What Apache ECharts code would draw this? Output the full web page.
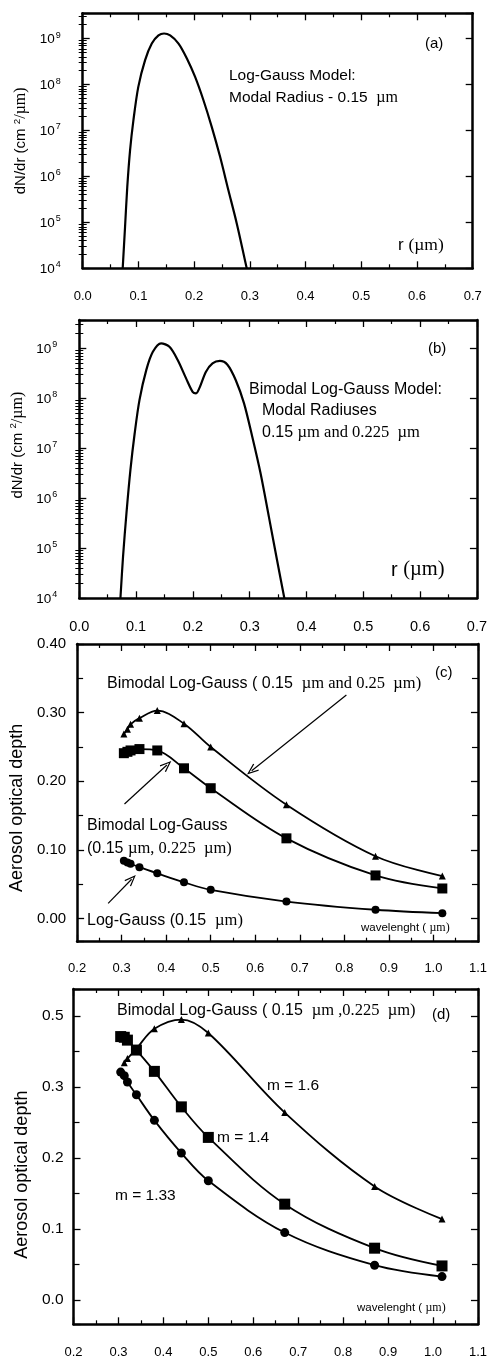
<!DOCTYPE html>
<html><head><meta charset="utf-8">
<script src="https://cdn.jsdelivr.net/npm/echarts@6/dist/echarts.min.js"></script>
<style>html,body{margin:0;padding:0;background:#fff}#c{width:490px;height:1362px}</style>
</head><body><div id="c"></div>
<script>
// ---------- Panel (a): Log-Gauss size distribution ----------
const aRadius = [0.0718, 0.076, 0.080, 0.085, 0.091, 0.0998, 0.112, 0.124, 0.136, 0.146, 0.157, 0.172, 0.187, 0.2016, 0.2166, 0.2316, 0.2465, 0.2615, 0.2765, 0.2944];
const aDNdr = [1e4, 7.9e4, 5.9e5, 3.7e6, 1.66e7, 8.9e7, 3.4e8, 7.8e8, 1.17e9, 1.29e9, 1.17e9, 7.8e8, 3.7e8, 1.48e8, 4.6e7, 1.2e7, 2.7e6, 5.0e5, 9.5e4, 1e4];

// ---------- Panel (b): Bimodal Log-Gauss size distribution ----------
const bRadius = [0.0724, 0.077, 0.083, 0.090, 0.0975, 0.106, 0.118, 0.1295, 0.144, 0.1587, 0.173, 0.188, 0.1995, 0.2055, 0.2112, 0.223, 0.2345, 0.2474, 0.2608, 0.2755, 0.290, 0.3045, 0.319, 0.3337, 0.348, 0.361];
const bDNdr = [1e4, 6.8e4, 5.0e5, 3.7e6, 2.0e7, 9.3e7, 3.7e8, 8.5e8, 1.26e9, 1.07e9, 5.9e8, 2.5e8, 1.35e8, 1.26e8, 1.58e8, 3.4e8, 5.0e8, 5.6e8, 4.7e8, 2.3e8, 7.9e7, 1.7e7, 3.2e6, 4.3e5, 5.9e4, 1e4];

// ---------- Panel (c): aerosol optical depth vs wavelength ----------
const cWave = [0.305, 0.313, 0.32, 0.34, 0.38, 0.44, 0.50, 0.67, 0.87, 1.02];
const cBimodal025 = [0.269, 0.276, 0.283, 0.292, 0.303, 0.284, 0.250, 0.166, 0.091, 0.062];
const cBimodal0225 = [0.241, 0.243, 0.245, 0.247, 0.245, 0.219, 0.190, 0.117, 0.063, 0.044];
const cLogGauss = [0.0845, 0.082, 0.080, 0.075, 0.066, 0.053, 0.042, 0.025, 0.013, 0.008];
// arrows: [from, to] in data units
const cArrows = [
  [[0.8045, 0.3258], [0.592, 0.2155]],
  [[0.3064, 0.167], [0.4016, 0.2238]],
  [[0.2697, 0.0224], [0.3224, 0.0574]]
];

// ---------- Panel (d): refractive index comparison ----------
const dWave = [0.305, 0.313, 0.32, 0.34, 0.38, 0.44, 0.50, 0.67, 0.87, 1.02];
const dWaveM16 = [0.313, 0.32, 0.34, 0.38, 0.44, 0.50, 0.67, 0.87, 1.02];
const dM16 = [0.334, 0.340, 0.354, 0.382, 0.395, 0.376, 0.264, 0.160, 0.114];
const dM14 = [0.371, 0.370, 0.366, 0.352, 0.322, 0.272, 0.229, 0.135, 0.073, 0.048];
const dM133 = [0.321, 0.316, 0.307, 0.289, 0.253, 0.207, 0.168, 0.095, 0.049, 0.033];
const dYTickLabels = ['0.0', '0.1', '0.2', '0.3', '0.5'];

const sans = '"Liberation Sans", Arial, Helvetica, sans-serif';
const serif = '"Liberation Serif", "Times New Roman", serif';
const BLACK = '#000';

const pair = (xs, ys) => xs.map((x, i) => [x, ys[i]]);

function xAxes(gridIndex, min, max, labelSize, margin) {
  const common = {
    type: 'value', gridIndex, min, max, interval: 0.1,
    splitLine: { show: false },
    axisLine: { show: true, onZero: false, lineStyle: { color: BLACK, width: 2.5 } },
    axisTick: { show: true, inside: true, length: 7, lineStyle: { color: BLACK, width: 1.3 } },
    minorTick: { show: true, splitNumber: 2, length: 4, lineStyle: { color: BLACK, width: 1.2 } }
  };
  return [
    Object.assign({}, common, { position: 'bottom', axisLabel: { show: true, margin, fontSize: labelSize, fontFamily: sans, color: BLACK, showMinLabel: true, showMaxLabel: true, formatter: v => v.toFixed(1) } }),
    Object.assign({}, common, { position: 'top', axisLabel: { show: false } })
  ];
}

const dNdrName = '{a|dN/dr (cm }{p|2}{t|/µm)}';
function nameRich(size) {
  return {
    a: { fontFamily: sans, fontSize: size, color: BLACK, verticalAlign: 'bottom' },
    p: { fontFamily: sans, fontSize: size * 0.65, color: BLACK, verticalAlign: 'bottom', padding: [0, 0, size * 0.45, 0] },
    t: { fontFamily: serif, fontSize: size + 1, color: BLACK, verticalAlign: 'bottom' }
  };
}

function logMinorValues(maxVal) {
  const out = [];
  for (let n = 4; n <= 9; n++) {
    for (let k = 2; k <= 9; k++) {
      const v = k * Math.pow(10, n);
      if (v < maxVal) out.push(v);
    }
  }
  return out;
}

function logYAxes(gridIndex, maxVal, margin, nameGap, namePad) {
  const common = {
    type: 'log', logBase: 10, gridIndex, min: 1e4, max: maxVal,
    splitLine: { show: false },
    axisLine: { show: true, onZero: false, lineStyle: { color: BLACK, width: 2.5 } },
    axisTick: { show: true, inside: true, length: 7, lineStyle: { color: BLACK, width: 1.3 } },
    minorTick: { show: false }
  };
  const minorCommon = {
    type: 'log', logBase: 10, gridIndex, min: 1e4, max: maxVal,
    splitLine: { show: false },
    axisLine: { show: false },
    axisLabel: { show: false },
    axisTick: { show: true, inside: true, length: 4, customValues: logMinorValues(maxVal), lineStyle: { color: BLACK, width: 1 } }
  };
  return [
    Object.assign({}, common, {
      position: 'left',
      name: dNdrName, nameLocation: 'middle', nameGap,
      nameTextStyle: { rich: nameRich(15), padding: namePad },
      axisLabel: {
        show: true, margin, showMinLabel: true, showMaxLabel: true,
        formatter: v => {
          const e = Math.log10(v);
          if (Math.abs(e - Math.round(e)) > 1e-6) return '';
          return '{b|10}{s|' + Math.round(e) + '}';
        },
        rich: {
          b: { fontFamily: sans, fontSize: 13.5, color: BLACK, verticalAlign: 'bottom' },
          s: { fontFamily: sans, fontSize: 9, color: BLACK, verticalAlign: 'bottom', padding: [0, 0, 7, 1] }
        }
      }
    }),
    Object.assign({}, common, { position: 'right', axisLabel: { show: false } }),
    Object.assign({}, minorCommon, { position: 'left' }),
    Object.assign({}, minorCommon, { position: 'right' })
  ];
}

function valYAxes(gridIndex, min, max, fmt, labelSize, margin, nameGap, namePad) {
  const common = {
    type: 'value', gridIndex, min, max, splitNumber: 4,
    splitLine: { show: false },
    axisLine: { show: true, onZero: false, lineStyle: { color: BLACK, width: 2.5 } },
    axisTick: { show: true, inside: true, length: 7, lineStyle: { color: BLACK, width: 1.3 } },
    minorTick: { show: true, splitNumber: 2, length: 6, lineStyle: { color: BLACK, width: 1.2 } }
  };
  return [
    Object.assign({}, common, {
      position: 'left',
      name: 'Aerosol optical depth', nameLocation: 'middle', nameGap,
      nameTextStyle: { fontFamily: sans, fontSize: 18, color: BLACK, padding: namePad },
      axisLabel: { show: true, margin, fontSize: labelSize, fontFamily: sans, color: BLACK, showMinLabel: true, showMaxLabel: true, formatter: fmt }
    }),
    Object.assign({}, common, { position: 'right', axisLabel: { show: false } })
  ];
}

const isTenth = v => Math.abs(v * 10 - Math.round(v * 10)) < 1e-6;

const grids = [
  { left: 82.7, top: 13.3, width: 390, height: 255 },
  { left: 79.3, top: 320, width: 400, height: 278.3 },
  { left: 73.5, top: 644, width: 409, height: 297.7 },
  { left: 73.5, top: 989, width: 409, height: 335.3 }
];

const xAxis = [].concat(
  xAxes(0, 0, 0.7, 13, 22),
  xAxes(1, 0, 0.7, 14.5, 21),
  xAxes(2, 0.2, 1.1, 13, 20),
  xAxes(3, 0.2, 1.1, 13, 22)
);
// y axis indices: 0-3 panel a, 4-7 panel b, 8-9 panel c, 10-11 panel d
const yAxis = [].concat(
  logYAxes(0, Math.pow(10, 9.55), 22, 48, [0, 0, 0, 0]),
  logYAxes(1, Math.pow(10, 9.566), 22, 48, [0, 0, 0, 28]),
  valYAxes(2, -0.0335, 0.40, v => isTenth(v) ? v.toFixed(2) : '', 15, 11, 40, [0, 30, 0, 0]),
  valYAxes(3, -0.0342, 0.438, v => isTenth(v) ? dYTickLabels[Math.round(v * 10)] : '', 15.5, 10, 40, [0, 36, 0, 0])
);

const chevron = 'path://M5 0L10 11L8.8 11.6L5 3L1.2 11.6L0 11Z';
const lineCurve = (xi, yi, data) => ({
  type: 'line', xAxisIndex: xi, yAxisIndex: yi, data, symbol: 'none', showSymbol: false,
  smooth: 0.3, lineStyle: { color: BLACK, width: 2.2 }, clip: true, silent: true
});
const markerLine = (xi, yi, data, symbol, size, extra) => Object.assign({
  type: 'line', xAxisIndex: xi, yAxisIndex: yi, data, symbol, symbolSize: size,
  smooth: 0.35, itemStyle: { color: BLACK }, lineStyle: { color: BLACK, width: 1.8 }, silent: true
}, extra || {});

const series = [
  lineCurve(0, 0, pair(aRadius, aDNdr)),
  lineCurve(2, 4, pair(bRadius, bDNdr)),
  markerLine(4, 8, pair(cWave, cBimodal025), 'triangle', 7),
  markerLine(4, 8, pair(cWave, cBimodal0225), 'rect', 10),
  markerLine(4, 8, pair(cWave, cLogGauss), 'circle', 8, {
    markLine: {
      silent: true, animation: false,
      symbol: ['none', chevron], symbolSize: [9, 12],
      lineStyle: { color: BLACK, width: 1.2, type: 'solid' },
      label: { show: false },
      data: cArrows.map(a => [{ coord: a[0] }, { coord: a[1] }])
    }
  }),
  markerLine(6, 10, pair(dWaveM16, dM16), 'triangle', 7),
  markerLine(6, 10, pair(dWave, dM14), 'rect', 11),
  markerLine(6, 10, pair(dWave, dM133), 'circle', 9)
];

const S = t => '{s|' + t + '}';
const T = t => '{t|' + t + '}';
function label(x, y, text, size) {
  return {
    type: 'text', x, y, silent: true,
    style: {
      text, fill: BLACK, verticalAlign: 'middle',
      rich: {
        s: { fontFamily: sans, fontSize: size, fill: BLACK },
        t: { fontFamily: serif, fontSize: size + 0.5, fill: BLACK }
      }
    }
  };
}

const graphic = [
  label(425, 44, S('(a)'), 15),
  label(229, 76, S('Log-Gauss Model:'), 15.5),
  label(229, 98, S('Modal Radius - 0.15  ') + T('µm'), 15.5),
  label(398, 245, S('r ') + T('(µm)'), 17),

  label(428, 349, S('(b)'), 15),
  label(249, 390, S('Bimodal Log-Gauss Model:'), 16),
  label(262, 411, S('Modal Radiuses'), 16),
  label(262, 433, S('0.15 ') + T('µm and 0.225  µm'), 16),
  label(391, 570, S('r ') + T('(µm)'), 20),

  label(107, 684, S('Bimodal Log-Gauss ( 0.15  ') + T('µm and 0.25  µm)'), 16),
  label(435, 673, S('(c)'), 15),
  label(87, 826, S('Bimodal Log-Gauss'), 16),
  label(87, 849, S('(0.15 ') + T('µm, 0.225  µm)'), 16),
  label(87, 921, S('Log-Gauss (0.15  ') + T('µm)'), 16),
  label(361, 928, S('wavelenght ( ') + T('µm)'), 11.5),

  label(117, 1011, S('Bimodal Log-Gauss ( 0.15  ') + T('µm ,0.225  µm)'), 16),
  label(432, 1015, S('(d)'), 15),
  label(267, 1086, S('m = 1.6'), 15.5),
  label(217, 1138, S('m = 1.4'), 15.5),
  label(115, 1196, S('m = 1.33'), 15.5),
  label(357, 1308, S('wavelenght ( ') + T('µm)'), 11.5)
];

const chart = echarts.init(document.getElementById('c'), null, { renderer: 'canvas' });
chart.setOption({
  animation: false,
  backgroundColor: '#fff',
  grid: grids,
  xAxis, yAxis, series, graphic
});
</script></body></html>
